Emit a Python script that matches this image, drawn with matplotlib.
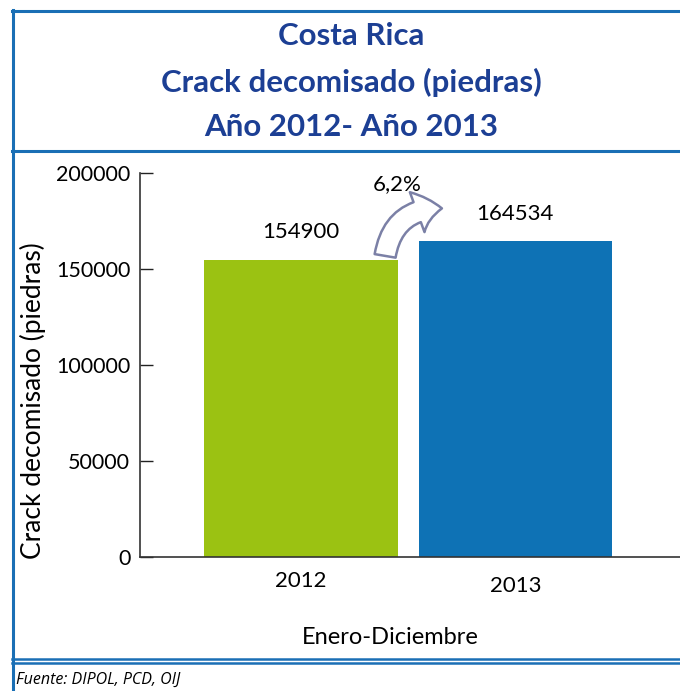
import matplotlib.pyplot as plt
from matplotlib.patches import FancyArrowPatch
from matplotlib.lines import Line2D
from matplotlib.transforms import ScaledTranslation

# datos
years = ['2012', '2013']
crack = [154900, 164534]
bar_colors = ['#9bc212', '#0e72b5']
title_lines = ['Costa Rica', 'Crack decomisado (piedras)', 'Año 2012- Año 2013']

plt.rcParams['font.family'] = ['Lato', 'DejaVu Sans']

fig = plt.figure(figsize=(6.8, 6.91), dpi=100)
W, H = 680.0, 691.0

ax = fig.add_axes([140 / W, 1 - 557 / H, 1 - 140 / W + 0.01, (557 - 173) / H])
x = range(len(years))
ax.bar(x, crack, width=0.903, color=bar_colors)
ax.set_xlim(-0.752, 1.8)
ax.set_ylim(0, 200000)
ax.set_yticks([0, 50000, 100000, 150000, 200000])
ax.set_xticks(list(x))
ax.set_xticklabels(years)
ax.tick_params(axis='y', direction='in', length=9.5, width=1, labelsize=15.5, pad=7, color='#222222')
ax.tick_params(axis='x', length=0, labelsize=16, pad=10)
for s in ['top', 'right']:
    ax.spines[s].set_visible(False)
for s in ['left', 'bottom']:
    ax.spines[s].set_color('#333333')
    ax.spines[s].set_linewidth(1.2)
# 2013 label sits a bit lower in the original
lab = ax.get_xticklabels()[1]
lab.set_transform(lab.get_transform() + ScaledTranslation(0, -5 / 100, fig.dpi_scale_trans))

ax.set_ylabel('Crack decomisado (piedras)', fontsize=19)
ax.yaxis.set_label_coords(-0.172, 0.406)

# valores sobre las barras
ax.text(0, crack[0] + 9000, str(crack[0]), ha='center', va='bottom', fontsize=16)
ax.text(1, crack[1] + 9000, str(crack[1]), ha='center', va='bottom', fontsize=16)

# flecha de variacion
pct = (crack[1] - crack[0]) / crack[0] * 100
arrow = FancyArrowPatch((0.39, crack[0] + 500), (0.67, crack[1] + 17000),
                        connectionstyle='arc3,rad=-0.45',
                        arrowstyle='simple,head_width=1.7,head_length=1.0,tail_width=0.85',
                        mutation_scale=18, facecolor='white', edgecolor='#7b80a6', lw=1.8,
                        clip_on=False)
ax.add_patch(arrow)
ax.text(0.45, 194000, ('%.1f' % pct).replace('.', ',') + '%', ha='center', va='center', fontsize=16)

# titulo
title_color = '#1c3f94'
for txt, yy in zip(title_lines, [36, 82, 127]):
    fig.text(351 / W, 1 - yy / H, txt, ha='center', va='center', fontsize=22.5,
             fontweight='bold', color=title_color)

fig.text(390 / W, 1 - 637 / H, 'Enero-Diciembre', ha='center', va='center', fontsize=17)
fig.text(16 / W, 1 - 680 / H, 'Fuente: DIPOL, PCD, OIJ', ha='left', va='center',
         fontsize=11.5, style='italic', family=['Open Sans', 'DejaVu Sans'])

# marco
bc = '#1a6fb5'
fig.add_artist(Line2D([12 / W, 1], [1 - 10.5 / H] * 2, color=bc, lw=2.2))
fig.add_artist(Line2D([12 / W, 1], [1 - 151 / H] * 2, color=bc, lw=2.2))
fig.add_artist(Line2D([12 / W, 1], [1 - 658.5 / H] * 2, color=bc, lw=1.8))
fig.add_artist(Line2D([12 / W, 1], [1 - 662.5 / H] * 2, color=bc, lw=1.8))
fig.add_artist(Line2D([13 / W] * 2, [0, 1 - 10 / H], color=bc, lw=2.2))

fig.savefig('out.png', dpi=100)
